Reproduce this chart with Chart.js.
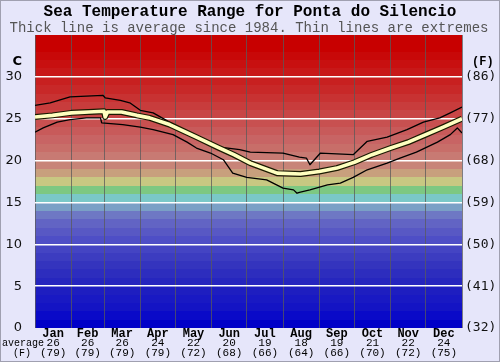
<!DOCTYPE html>
<html>
<head>
<meta charset="utf-8">
<script src="https://cdn.jsdelivr.net/npm/chart.js@4.4.1/dist/chart.umd.min.js"></script>
<style>
html, body { margin: 0; padding: 0; background: #e6e6fa; }
#wrap { width: 500px; height: 362px; }
</style>
</head>
<body>
<div id="wrap"><canvas id="chart" width="500" height="362"></canvas></div>
<script>
// month axis
const months = ['Jan', 'Feb', 'Mar', 'Apr', 'May', 'Jun', 'Jul', 'Aug', 'Sep', 'Oct', 'Nov', 'Dec'];
const monthStart = [0, 31, 59, 90, 120, 151, 181, 212, 243, 273, 304, 334, 365];
const monthAvgC = [26, 26, 26, 24, 22, 20, 19, 18, 19, 21, 22, 24];
const monthAvgF = [79, 79, 79, 79, 72, 68, 66, 64, 66, 70, 72, 75];

// tick labels
const tickC = [0, 5, 10, 15, 20, 25, 30];
const tickF = [32, 41, 50, 59, 68, 77, 86];

// average since 1984 (day of year, deg C)
const avgDay = [0, 15, 31, 46, 59, 60, 62, 74, 87, 98, 115, 138, 156, 170, 184, 207, 227, 243, 258, 273, 288, 304, 319, 334, 349, 365];
const avgTemp = [25.2, 25.4, 25.7, 25.8, 25.9, 25.2, 25.8, 25.8, 25.4, 25.1, 24.3, 22.8, 21.6, 20.7, 19.7, 18.5, 18.4, 18.7, 19.1, 19.8, 20.7, 21.5, 22.2, 23.1, 24.0, 25.0];

// upper extreme
const maxDay = [0, 13, 30, 58, 60, 73, 81, 90, 101, 115, 126, 135, 144, 158, 175, 184, 212, 226, 232, 235, 244, 272, 284, 301, 318, 332, 346, 355, 365];
const maxTemp = [26.6, 26.9, 27.6, 27.8, 27.5, 27.2, 26.9, 26.0, 25.7, 24.6, 23.7, 22.8, 22.5, 21.6, 21.3, 21.0, 20.9, 20.4, 20.3, 19.5, 20.9, 20.7, 22.3, 22.8, 23.7, 24.6, 25.1, 25.7, 26.4];

// lower extreme
const minDay = [0, 7, 19, 30, 44, 56, 57, 75, 90, 101, 118, 130, 138, 150, 161, 169, 181, 198, 212, 221, 224, 226, 235, 250, 261, 272, 284, 301, 312, 326, 344, 355, 361, 365];
const minTemp = [23.4, 23.9, 24.6, 24.9, 25.1, 25.1, 24.5, 24.3, 24.0, 23.7, 23.1, 22.2, 21.5, 20.9, 20.1, 18.5, 18.0, 17.7, 16.7, 16.5, 16.1, 16.2, 16.5, 17.1, 17.3, 18.0, 18.9, 19.7, 20.3, 21.0, 22.2, 23.1, 23.9, 23.3];

const toPts = (xs, ys) => xs.map((x, i) => ({ x: x, y: ys[i] }));

// one colour per degree, 0..34
const bandColors = [
	'rgb(0,0,200)', 'rgb(10,10,200)', 'rgb(20,20,196)', 'rgb(25,25,195)', 'rgb(30,30,192)',
	'rgb(38,38,190)', 'rgb(45,45,190)', 'rgb(52,52,190)', 'rgb(60,60,192)', 'rgb(68,68,195)',
	'rgb(78,78,198)', 'rgb(88,88,196)', 'rgb(98,100,196)', 'rgb(110,120,196)', 'rgb(122,160,198)',
	'rgb(122,200,200)', 'rgb(125,200,130)', 'rgb(200,200,130)', 'rgb(200,160,125)', 'rgb(200,132,120)',
	'rgb(200,122,115)', 'rgb(200,110,105)', 'rgb(200,100,100)', 'rgb(200,90,90)', 'rgb(200,80,80)',
	'rgb(200,70,70)', 'rgb(200,60,60)', 'rgb(200,50,50)', 'rgb(200,40,40)', 'rgb(200,32,32)',
	'rgb(200,24,24)', 'rgb(200,16,16)', 'rgb(200,8,8)', 'rgb(200,0,0)', 'rgb(200,0,0)'
];

const mono = '"Liberation Mono", "DejaVu Sans Mono", monospace';

const bandsPlugin = {
	id: 'bands',
	beforeDraw(chart) {
		const { ctx, chartArea: a, scales: { y } } = chart;
		ctx.save();
		ctx.fillStyle = '#e6e6fa';
		ctx.fillRect(0, 0, chart.width, chart.height);
		bandColors.forEach((c, i) => {
			const top = Math.round(y.getPixelForValue(i + 1));
			const bot = Math.round(y.getPixelForValue(i));
			ctx.fillStyle = c;
			ctx.fillRect(a.left, top, a.right - a.left, bot - top);
		});
		ctx.restore();
	},
	afterDraw(chart) {
		const { ctx, chartArea: a, scales: { x, y } } = chart;
		ctx.save();
		// titles
		ctx.textAlign = 'center';
		ctx.textBaseline = 'middle';
		ctx.fillStyle = '#000';
		ctx.font = 'bold 16px ' + mono;
		ctx.fillText('Sea Temperature Range for Ponta do Silencio', 250, 12);
		ctx.fillStyle = '#555';
		ctx.font = '14px ' + mono;
		ctx.fillText('Thick line is average since 1984. Thin lines are extremes', 249, 28);

		// unit labels
		ctx.fillStyle = '#000';
		ctx.font = 'bold 13px "DejaVu Sans", sans-serif';
		ctx.textAlign = 'right';
		ctx.fillText('C', 22, y.getPixelForValue(31.8));
		ctx.font = 'bold 12px ' + mono;
		ctx.textAlign = 'left';
		ctx.fillText('(F)', 472, y.getPixelForValue(31.8));

		// month labels and monthly averages
		ctx.textAlign = 'center';
		months.forEach((m, i) => {
			const cx = x.getPixelForValue((monthStart[i] + monthStart[i + 1]) / 2);
			ctx.font = 'bold 12px ' + mono;
			ctx.fillText(m, cx, a.bottom + 6);
			ctx.font = '11px ' + mono;
			ctx.fillText(String(monthAvgC[i]), cx, a.bottom + 15);
			ctx.fillText('(' + monthAvgF[i] + ')', cx, a.bottom + 25);
		});
		ctx.font = '10px ' + mono;
		ctx.fillText('average', 23, a.bottom + 15);
		ctx.fillText('(F)', 22, a.bottom + 25);

		ctx.strokeStyle = '#a0a0b0';
		ctx.lineWidth = 1;
		ctx.strokeRect(0.5, 0.5, chart.width - 1, chart.height - 1);
		ctx.restore();
	}
};

const config = {
	type: 'line',
	data: {
		datasets: [
			{ data: toPts(avgDay, avgTemp), borderColor: '#ffffc0', borderWidth: 3.6 },
			{ data: toPts(avgDay, avgTemp), borderColor: '#1a1a00', borderWidth: 6 },
			{ data: toPts(maxDay, maxTemp), borderColor: '#000', borderWidth: 1.3 },
			{ data: toPts(minDay, minTemp), borderColor: '#000', borderWidth: 1.3 }
		]
	},
	plugins: [bandsPlugin],
	options: {
		responsive: false,
		devicePixelRatio: 1,
		animation: false,
		layout: { padding: { top: 35 } },
		elements: { point: { radius: 0 }, line: { tension: 0, borderJoinStyle: 'round' } },
		plugins: { legend: { display: false }, tooltip: { enabled: false } },
		scales: {
			x: {
				type: 'linear',
				min: 0,
				max: 365,
				afterBuildTicks: (s) => { s.ticks = monthStart.map((v) => ({ value: v })); },
				afterFit: (s) => { s.height = 34; },
				ticks: { display: false },
				grid: { color: 'rgba(90,90,90,0.75)', lineWidth: 1, drawTicks: false },
				border: { display: false }
			},
			y: {
				position: 'left',
				min: 0,
				max: 35,
				afterBuildTicks: (s) => { s.ticks = tickC.concat([35]).map((v) => ({ value: v })); },
				afterFit: (s) => { s.width = 35; },
				ticks: {
					padding: 13,
					color: '#111',
					font: { size: 13, family: '"DejaVu Sans", sans-serif' },
					callback: (v) => (v === 35 ? '' : v)
				},
				grid: {
					drawTicks: false,
					lineWidth: 1.5,
					color: (c) => (c.tick && (c.tick.value === 0 || c.tick.value === 35) ? 'rgba(0,0,0,0)' : '#ffffff')
				},
				border: { display: false }
			},
			y2: {
				position: 'right',
				min: 32,
				max: 95,
				afterBuildTicks: (s) => { s.ticks = tickF.map((v) => ({ value: v })); },
				afterFit: (s) => { s.width = 38; },
				ticks: {
					padding: 3,
					color: '#111',
					font: { size: 13, family: '"DejaVu Sans Mono", monospace' },
					callback: (v) => '(' + v + ')'
				},
				grid: { display: false, drawTicks: false },
				border: { display: false }
			}
		}
	}
};

new Chart(document.getElementById('chart'), config);
</script>
</body>
</html>
